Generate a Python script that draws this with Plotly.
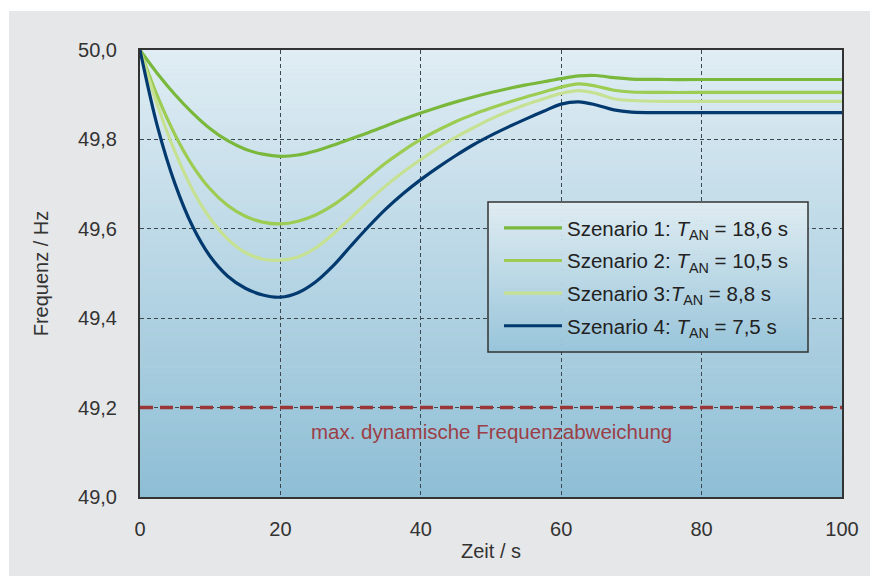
import plotly.graph_objects as go

# ---------------- data ----------------
time_s = [0, 2.5, 5, 7.5, 10, 12.5, 15, 17.5, 20, 22.5, 25, 27.5, 30, 32.5, 35, 37.5, 40, 42.5, 45, 47.5,
          50, 52.5, 55, 57.5, 60, 62.5, 65, 67.5, 70, 75, 80, 90, 100]

szenario_1 = [50.000, 49.947, 49.900, 49.859, 49.824, 49.797, 49.778, 49.767, 49.762, 49.765, 49.774, 49.787,
              49.801, 49.815, 49.830, 49.845, 49.859, 49.872, 49.884, 49.895, 49.905, 49.914, 49.922, 49.929,
              49.936, 49.942, 49.943, 49.938, 49.935, 49.934, 49.934, 49.934, 49.934]
szenario_2 = [50.000, 49.896, 49.810, 49.741, 49.689, 49.652, 49.628, 49.615, 49.611, 49.617, 49.631, 49.653,
              49.682, 49.715, 49.747, 49.775, 49.800, 49.821, 49.840, 49.856, 49.870, 49.883, 49.895, 49.906,
              49.917, 49.924, 49.919, 49.910, 49.906, 49.905, 49.905, 49.905, 49.905]
szenario_3 = [50.000, 49.876, 49.772, 49.687, 49.623, 49.577, 49.547, 49.532, 49.530, 49.537, 49.557, 49.588,
              49.624, 49.661, 49.696, 49.727, 49.755, 49.781, 49.805, 49.826, 49.846, 49.863, 49.878, 49.891,
              49.903, 49.909, 49.903, 49.891, 49.887, 49.885, 49.885, 49.885, 49.885]
szenario_4 = [50.000, 49.828, 49.700, 49.605, 49.538, 49.494, 49.467, 49.452, 49.447, 49.457, 49.481, 49.517,
              49.561, 49.604, 49.644, 49.679, 49.710, 49.738, 49.764, 49.788, 49.809, 49.828, 49.846, 49.863,
              49.879, 49.884, 49.877, 49.866, 49.861, 49.860, 49.860, 49.860, 49.860]

series_names = [
    "Szenario 1: <i>T</i><sub>AN</sub> = 18,6 s",
    "Szenario 2: <i>T</i><sub>AN</sub> = 10,5 s",
    "Szenario 3:<i>T</i><sub>AN</sub> = 8,8 s",
    "Szenario 4: <i>T</i><sub>AN</sub> = 7,5 s",
]
series_values = [szenario_1, szenario_2, szenario_3, szenario_4]
series_colors = ["#7ab83c", "#9dcc52", "#c7e193", "#023a6f"]

limit_value = 49.2
limit_label = "max. dynamische Frequenzabweichung"
x_ticks = [0, 20, 40, 60, 80, 100]
y_ticks = [49.0, 49.2, 49.4, 49.6, 49.8, 50.0]

# ---------------- layout geometry ----------------
W, H = 870, 576
L, R, T, B = 140, 28, 50, 79
PW, PH = W - L - R, H - T - B
FONT = "Liberation Sans"
TXT = "#333333"


def px_x(px):
    return (px - L) / PW


def px_y(py):
    return (H - B - py) / PH


def lerp(c1, c2, f):
    return "rgb(%d,%d,%d)" % tuple(round(a + (b - a) * f) for a, b in zip(c1, c2))


shapes = []
# white outer margin strips (the panel itself is gray)
shapes.append(dict(type="rect", xref="paper", yref="paper", x0=px_x(0), x1=px_x(W), y0=px_y(11), y1=px_y(0),
                   fillcolor="white", line_width=0, layer="below"))
shapes.append(dict(type="rect", xref="paper", yref="paper", x0=px_x(0), x1=px_x(9), y0=px_y(H), y1=px_y(0),
                   fillcolor="white", line_width=0, layer="below"))

# plot area vertical gradient
top_c, bot_c = (224, 237, 244), (142, 190, 213)
n = 90
for i in range(n):
    f = (i + 0.5) / n
    shapes.append(dict(type="rect", xref="paper", yref="paper", x0=0, x1=1,
                       y0=1 - (i + 1) / n, y1=1 - i / n + 0.001,
                       fillcolor=lerp(top_c, bot_c, f), line_width=0, layer="below"))

# legend box gradient (drawn above the grid, beneath the legend entries)
lx0, lx1, ly0, ly1 = 488, 808, 202, 352
ltop, lbot = (224, 236, 242), (152, 197, 218)
m = 40
for i in range(m):
    f = (i + 0.5) / m
    shapes.append(dict(type="rect", xref="paper", yref="paper", x0=px_x(lx0), x1=px_x(lx1),
                       y0=px_y(ly0 + (i + 1) * (ly1 - ly0) / m), y1=px_y(ly0 + i * (ly1 - ly0) / m) + 0.0005,
                       fillcolor=lerp(ltop, lbot, f), line_width=0, layer="above"))
shapes.append(dict(type="rect", xref="paper", yref="paper", x0=px_x(lx0), x1=px_x(lx1),
                   y0=px_y(ly1), y1=px_y(ly0), line=dict(color="#333333", width=1.5), layer="above"))

fig = go.Figure()

# limit line
fig.add_trace(go.Scatter(x=[x_ticks[0], x_ticks[-1]], y=[limit_value, limit_value], mode="lines",
                         line=dict(color="#9c3636", width=3.5, dash="13px,7px"), showlegend=False,
                         hoverinfo="skip"))

for k, (name, vals, col) in enumerate(zip(series_names, series_values, series_colors)):
    fig.add_trace(go.Scatter(x=time_s, y=vals, mode="lines", name=name, legendgroup="g%d" % k,
                             line=dict(color=col, width=3.2, shape="spline", smoothing=1.0)))

fig.add_annotation(x=50, y=49.147, xref="x", yref="y", text=limit_label, showarrow=False,
                   font=dict(size=20.5, color="#9c3e46", family=FONT))

axis_common = dict(showline=True, linecolor="#333333", linewidth=2, mirror=True,
                   showgrid=True, gridcolor="#3c4850", gridwidth=1, griddash="4px,3px",
                   zeroline=False, ticks="", tickfont=dict(size=20, color=TXT, family=FONT))

fig.update_xaxes(range=[0, 100], tickvals=x_ticks, ticklabelstandoff=13,
                 title=dict(text="Zeit / s", font=dict(size=20, color=TXT, family=FONT), standoff=5),
                 **axis_common)
fig.update_yaxes(range=[49.0, 50.0], tickvals=y_ticks, tickformat=".1f", ticklabelstandoff=17,
                 title=dict(text="Frequenz / Hz", font=dict(size=20, color=TXT, family=FONT), standoff=24),
                 **axis_common)

fig.update_layout(
    width=W, height=H,
    margin=dict(l=L, r=R, t=T, b=B, autoexpand=False),
    paper_bgcolor="#e6e7e9",
    plot_bgcolor="#c0dae7",
    separators=",.",
    shapes=shapes,
    showlegend=True,
    legend=dict(x=px_x(499), y=px_y(208), xanchor="left", yanchor="top",
                bgcolor="rgba(0,0,0,0)", borderwidth=0, itemwidth=58,
                font=dict(size=20.5, color="#222222", family=FONT),
                traceorder="grouped", tracegroupgap=3),
    font=dict(family=FONT),
)

fig.write_html("out.html", config={"displayModeBar": False},
               post_script="document.body.style.margin='0';")
